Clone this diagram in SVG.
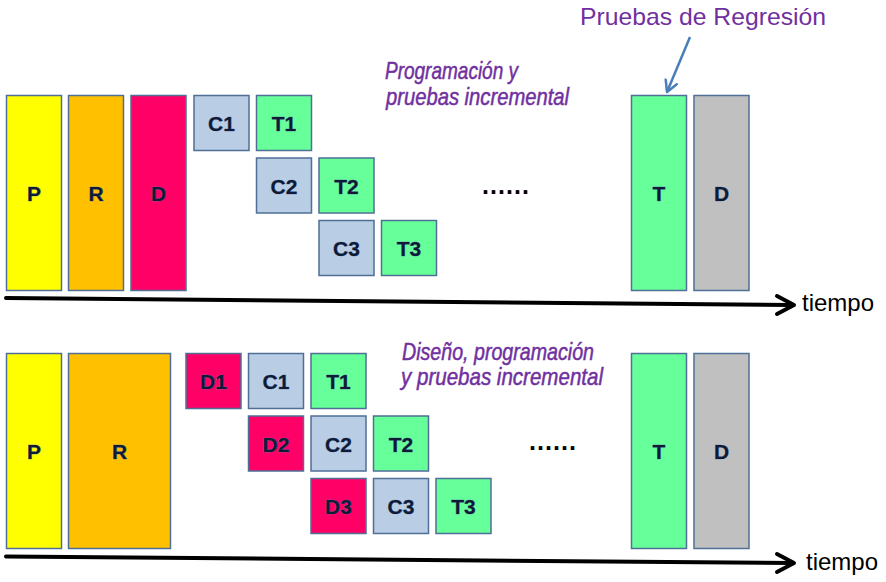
<svg xmlns="http://www.w3.org/2000/svg" width="886" height="582" viewBox="0 0 886 582">
<style>
rect.b{stroke:#4F6F96;stroke-width:1.5}
.P{fill:#FFFF00}.R{fill:#FFC000}.D{fill:#FF0066}.C{fill:#B9CDE5}.T{fill:#66FF99}.G{fill:#C0C0C0}
text.l{font-family:"Liberation Sans",Arial,sans-serif;font-weight:bold;font-size:21px;fill:#0F1B36;stroke:#5577AA;stroke-width:0.5;paint-order:stroke;text-anchor:middle}
text.it{font-family:"Liberation Sans",Arial,sans-serif;font-style:italic;font-size:24px;fill:#7030A0;stroke:#7030A0;stroke-width:0.5}
text.tm{font-family:"Liberation Sans",Arial,sans-serif;font-size:24px;fill:#000}
text.dots{font-family:"Liberation Sans",Arial,sans-serif;font-weight:bold;font-size:25px;fill:#000}
.axis{stroke:#000;stroke-width:4;fill:none;stroke-linecap:round;stroke-linejoin:round}
</style>
<defs>
<marker id="ah" markerUnits="userSpaceOnUse" markerWidth="16" markerHeight="16" refX="12" refY="7" orient="auto">
<path d="M1,1 L12,7 L1,13" fill="none" stroke="#4A7EBB" stroke-width="2.5" stroke-linecap="round" stroke-linejoin="round"/>
</marker>
</defs>
<rect width="886" height="582" fill="#fff"/>

<!-- Top section -->
<g id="top-P"><rect class="b P" x="6.5" y="95.5" width="55" height="195"/><text class="l" x="34" y="201">P</text></g>
<g id="top-R"><rect class="b R" x="68.5" y="95.5" width="55" height="195"/><text class="l" x="96" y="201">R</text></g>
<g id="top-D"><rect class="b D" x="131" y="95.5" width="55" height="195"/><text class="l" x="158.5" y="201">D</text></g>
<g id="top-C1"><rect class="b C" x="194" y="95.5" width="55" height="55"/><text class="l" x="221.5" y="131">C1</text></g>
<g id="top-T1"><rect class="b T" x="256.5" y="95.5" width="55" height="55"/><text class="l" x="284" y="131">T1</text></g>
<g id="top-C2"><rect class="b C" x="256.5" y="158" width="55" height="55"/><text class="l" x="284" y="193.5">C2</text></g>
<g id="top-T2"><rect class="b T" x="319" y="158" width="55" height="55"/><text class="l" x="346.5" y="193.5">T2</text></g>
<g id="top-C3"><rect class="b C" x="319" y="220.5" width="55" height="55"/><text class="l" x="346.5" y="256">C3</text></g>
<g id="top-T3"><rect class="b T" x="381.5" y="220.5" width="55" height="55"/><text class="l" x="409" y="256">T3</text></g>
<g id="top-dots"><text class="dots" x="482" y="194" textLength="47" lengthAdjust="spacing">......</text></g>
<g id="top-Tbig"><rect class="b T" x="631.5" y="95.5" width="55" height="195"/><text class="l" x="659" y="201">T</text></g>
<g id="top-Dgray"><rect class="b G" x="694" y="95.5" width="55" height="195"/><text class="l" x="721.5" y="201">D</text></g>
<g id="top-label"><text class="it" x="385" y="79" textLength="133" lengthAdjust="spacingAndGlyphs">Programación y</text><text class="it" x="386" y="105" textLength="183" lengthAdjust="spacingAndGlyphs">pruebas incremental</text></g>
<g id="regresion-label"><text class="tm" x="580" y="25" style="fill:#7030A0" textLength="246" lengthAdjust="spacingAndGlyphs">Pruebas de Regresión</text></g>
<g id="top-tiempo"><text class="tm" x="802" y="311">tiempo</text></g>

<!-- Bottom section -->
<g id="bot-P"><rect class="b P" x="6.5" y="353.5" width="55" height="195"/><text class="l" x="34" y="459">P</text></g>
<g id="bot-R"><rect class="b R" x="68.5" y="353.5" width="102" height="195"/><text class="l" x="119.5" y="459">R</text></g>
<g id="bot-D1"><rect class="b D" x="186" y="353.5" width="55" height="55"/><text class="l" x="213.5" y="389">D1</text></g>
<g id="bot-C1"><rect class="b C" x="248.5" y="353.5" width="55" height="55"/><text class="l" x="276" y="389">C1</text></g>
<g id="bot-T1"><rect class="b T" x="311" y="353.5" width="55" height="55"/><text class="l" x="338.5" y="389">T1</text></g>
<g id="bot-D2"><rect class="b D" x="248.5" y="416" width="55" height="55"/><text class="l" x="276" y="451.5">D2</text></g>
<g id="bot-C2"><rect class="b C" x="311" y="416" width="55" height="55"/><text class="l" x="338.5" y="451.5">C2</text></g>
<g id="bot-T2"><rect class="b T" x="373.5" y="416" width="55" height="55"/><text class="l" x="401" y="451.5">T2</text></g>
<g id="bot-D3"><rect class="b D" x="311" y="478.5" width="55" height="55"/><text class="l" x="338.5" y="514">D3</text></g>
<g id="bot-C3"><rect class="b C" x="373.5" y="478.5" width="55" height="55"/><text class="l" x="401" y="514">C3</text></g>
<g id="bot-T3"><rect class="b T" x="436" y="478.5" width="55" height="55"/><text class="l" x="463.5" y="514">T3</text></g>
<g id="bot-dots"><text class="dots" x="529" y="450" textLength="47" lengthAdjust="spacing">......</text></g>
<g id="bot-Tbig"><rect class="b T" x="631.5" y="353.5" width="55" height="195"/><text class="l" x="659" y="459">T</text></g>
<g id="bot-Dgray"><rect class="b G" x="694" y="353.5" width="55" height="195"/><text class="l" x="721.5" y="459">D</text></g>
<g id="bot-label"><text class="it" x="402" y="360" textLength="192" lengthAdjust="spacingAndGlyphs">Diseño, programación</text><text class="it" x="401" y="385" textLength="202" lengthAdjust="spacingAndGlyphs">y pruebas incremental</text></g>
<g id="bot-tiempo"><text class="tm" x="806" y="570">tiempo</text></g>

<!-- Connectors -->
<g id="connectors">
<path class="axis" d="M6,298 L792,305"/>
<path class="axis" d="M777,296 L794,305 L777,314"/>
<path class="axis" d="M6,556.5 L792,563"/>
<path class="axis" d="M777,554 L794,563 L777,572"/>
<path d="M690,37 L667,92" stroke="#4A7EBB" stroke-width="2.5" fill="none" marker-end="url(#ah)"/>
</g>
</svg>
